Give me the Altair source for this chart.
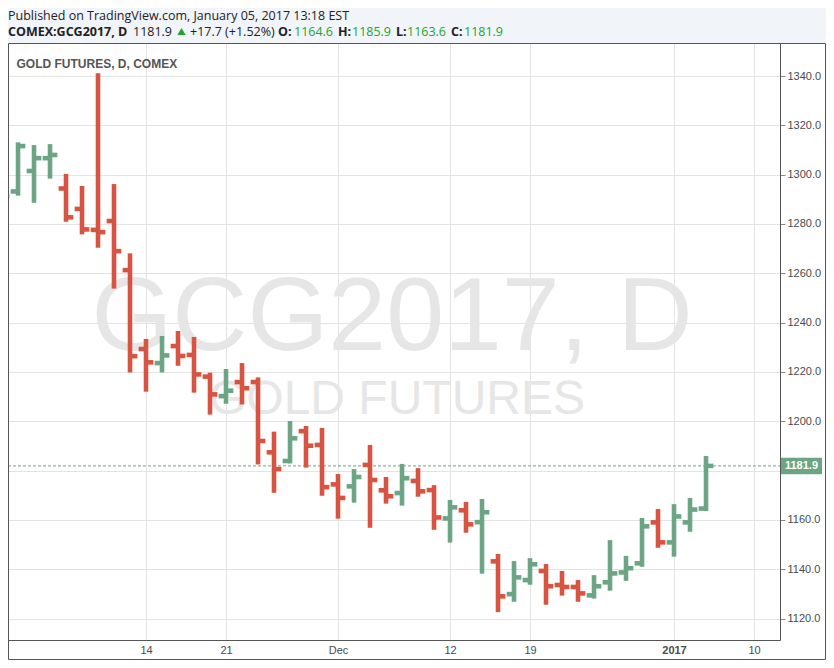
import altair as alt
import pandas as pd

# ---------------- data ----------------
dates = ["Nov 1", "Nov 2", "Nov 3", "Nov 4", "Nov 7", "Nov 8", "Nov 9", "Nov 10", "Nov 11",
         "Nov 14", "Nov 15", "Nov 16", "Nov 17", "Nov 18", "Nov 21", "Nov 22", "Nov 23", "Nov 25",
         "Nov 28", "Nov 29", "Nov 30", "Dec 1", "Dec 2", "Dec 5", "Dec 6", "Dec 7", "Dec 8", "Dec 9",
         "Dec 12", "Dec 13", "Dec 14", "Dec 15", "Dec 16", "Dec 19", "Dec 20", "Dec 21", "Dec 22",
         "Dec 23", "Dec 27", "Dec 28", "Dec 29", "Dec 30", "Jan 3", "Jan 4", "Jan 5"]
opens = [1287.0, 1293.2, 1301.5, 1306.7, 1294.4, 1286.1, 1277.6, 1281.2, 1261.3,
         1229.3, 1223.6, 1230.5, 1226.9, 1218.1, 1210.2, 1215.9, 1215.9, 1187.4,
         1183.9, 1196.0, 1190.4, 1174.4, 1173.6, 1182.3, 1172.0, 1170.9, 1175.8, 1172.1,
         1160.6, 1163.9, 1159.1, 1143.2, 1129.9, 1135.6, 1139.3, 1133.6, 1132.8,
         1129.4, 1134.7, 1138.7, 1142.4, 1159.0, 1150.9, 1159.0, 1164.6]
highs = [1293.5, 1313.1, 1312.0, 1312.4, 1300.3, 1295.4, 1341.1, 1296.2, 1268.1,
         1233.4, 1234.6, 1236.6, 1234.2, 1219.7, 1221.2, 1223.6, 1217.8, 1195.8,
         1200.1, 1198.1, 1197.3, 1178.6, 1180.6, 1190.4, 1177.4, 1182.7, 1181.0, 1174.1,
         1168.1, 1167.3, 1168.5, 1146.2, 1143.3, 1144.5, 1142.1, 1139.3, 1135.6,
         1137.6, 1151.8, 1145.4, 1160.8, 1164.4, 1166.4, 1168.9, 1185.9]
lows = [1283.0, 1291.5, 1288.6, 1298.4, 1280.9, 1275.8, 1270.4, 1253.8, 1219.8,
        1212.0, 1219.8, 1222.5, 1211.6, 1202.7, 1207.1, 1206.8, 1182.5, 1171.0,
        1182.9, 1181.2, 1169.8, 1160.5, 1167.0, 1156.8, 1166.6, 1165.8, 1169.4, 1156.0,
        1150.8, 1154.8, 1138.2, 1122.6, 1126.8, 1133.7, 1125.6, 1129.3, 1126.8,
        1128.1, 1131.3, 1135.3, 1141.0, 1148.7, 1145.1, 1155.2, 1163.6]
closes = [1291.3, 1311.6, 1306.7, 1308.0, 1282.7, 1277.8, 1276.7, 1269.0, 1226.4,
          1223.9, 1226.7, 1226.5, 1219.0, 1210.9, 1212.4, 1213.4, 1192.0, 1180.6,
          1193.1, 1190.1, 1173.3, 1168.9, 1177.4, 1176.2, 1169.6, 1176.9, 1171.6, 1161.0,
          1165.1, 1158.2, 1163.1, 1129.0, 1136.7, 1142.0, 1133.1, 1132.8, 1130.2,
          1133.1, 1138.3, 1140.4, 1157.4, 1150.9, 1161.4, 1164.2, 1181.9]

x_tick_index = [0, 9, 14, 21, 28, 33, 42, 47]
x_tick_labels = ["Nov", "14", "21", "Dec", "12", "19", "2017", "10"]
y_ticks = [1120, 1140, 1160, 1180, 1200, 1220, 1240, 1260, 1280, 1300, 1320, 1340]
hidden_y_label = 1180  # covered by the last-price marker in the reference

published = "Published on TradingView.com, January 05, 2017 13:18 EST"
symbol = "COMEX:GCG2017, D"
pane_title = "GOLD FUTURES, D, COMEX"
watermark1 = "GCG2017, D"
watermark2 = "GOLD FUTURES"

# ---------------- styles ----------------
UP = "#6ba583"
DOWN = "#d75442"
GREEN_TXT = "#21a62c"
GRID = "#e3e3e3"
FRAME = "#555555"
FONT = "Liberation Sans"
HFONT = "Open Sans"
W, H = 772, 597

df = pd.DataFrame({"i": list(range(len(dates))), "date": dates,
                   "o": opens, "h": highs, "l": lows, "c": closes})
last = df.tail(1).reset_index(drop=True)
one = pd.DataFrame({"k": [0]})

chg = closes[-1] - closes[-2]
pct = chg / closes[-2] * 100

label_expr = " : ".join(
    f"datum.value == {v} ? '{t}'" for v, t in zip(x_tick_index, x_tick_labels)
) + " : ''"
y_label_expr = f"datum.value == {hidden_y_label} ? '' : format(datum.value, '.1f')"

xscale = alt.Scale(domain=[0.375, 48.625], nice=False, zero=False)
yscale = alt.Scale(domain=[1111.3, 1353.4], nice=False, zero=False)

xaxis = alt.Axis(values=x_tick_index, labelExpr=label_expr, title=None, grid=True,
                 gridColor=GRID, ticks=False, tickSize=0, labelPadding=4, labelFontSize=11,
                 labelColor="#4a4a4a", labelFont=FONT, domainColor=FRAME,
                 labelFlush=False, labelOverlap=False,
                 labelFontWeight={"condition": {"test": "datum.value == 42", "value": "bold"},
                                  "value": "normal"})
yaxis = alt.Axis(orient="right", values=y_ticks, labelExpr=y_label_expr, title=None, grid=True,
                 gridColor=GRID, tickSize=5, tickColor="#888888", labelPadding=2,
                 labelFontSize=11, labelColor="#4a4a4a", labelFont=FONT, domainColor=FRAME,
                 labelFlush=False, labelOverlap=False)


def X(f):
    return alt.X(f, type="quantitative", scale=xscale, axis=xaxis)


def Y(f):
    return alt.Y(f, type="quantitative", scale=yscale, axis=yaxis)


color = alt.condition("datum.c >= datum.o", alt.value(UP), alt.value(DOWN))

# header background strip
header_bg = alt.Chart(one).mark_rect(color="#f1f4f9").encode(
    x=alt.value(0), x2=alt.value(818), y=alt.value(-35), y2=alt.value(0))

# watermark
wm1 = alt.Chart(one).mark_text(text=watermark1, font=FONT, fontSize=104, color="#e6e6e6",
                               align="center", baseline="alphabetic").encode(
    x=alt.value(384), y=alt.value(307))
wm2 = alt.Chart(one).mark_text(text=watermark2, font=FONT, fontSize=48, color="#e6e6e6",
                               align="center", baseline="alphabetic").encode(
    x=alt.value(389), y=alt.value(371))

# current price dotted line
price_line = alt.Chart(last).mark_rule(color=UP, strokeDash=[3, 2], strokeWidth=1).encode(
    y=Y("c"), x=alt.value(0), x2=alt.value(W))

base = alt.Chart(df).transform_calculate(lo="datum.i - 0.46", hi="datum.i + 0.46")
bars = base.mark_rule(strokeWidth=4.6, clip=True).encode(
    x=X("i"), y=Y("h"), y2="l", color=color)
open_t = base.mark_rule(strokeWidth=4.6, clip=True).encode(
    x=X("lo"), x2="i", y=Y("o"), color=color)
close_t = base.mark_rule(strokeWidth=4.6, clip=True).encode(
    x=X("i"), x2="hi", y=Y("c"), color=color)

# price box on the right axis
pbase = alt.Chart(last).transform_calculate(c_lo="datum.c - 3.35", c_hi="datum.c + 3.35")
pbox = pbase.mark_rect(color=UP).encode(
    x=alt.value(773), x2=alt.value(814), y=Y("c_lo"), y2="c_hi")
ptext = alt.Chart(last).mark_text(font=FONT, fontSize=11, fontWeight="bold", color="white",
                                  align="center", baseline="middle").encode(
    x=alt.value(793.5), y=Y("c"), text=alt.Text("c:Q", format=".1f"))

# pane title
ptitle = alt.Chart(one).mark_text(text=pane_title, font=FONT, fontSize=12, fontWeight="bold",
                                  color="#555555", align="left", baseline="alphabetic").encode(
    x=alt.value(8.5), y=alt.value(25))


def htext(txt, x, y, bold=False, col="#222222", size=12.5):
    return alt.Chart(one).mark_text(text=txt, font=HFONT, fontSize=size,
                                    fontWeight="bold" if bold else "normal", color=col,
                                    align="left", baseline="alphabetic").encode(
        x=alt.value(x), y=alt.value(y))


L1, L2 = -23.5, -7.0
headers = [
    htext(published, 0, L1),
    htext(symbol, 0, L2, bold=True),
    htext(f"{closes[-1]:.1f}", 125, L2),
    htext(f"{chg:+.1f} ({pct:+.2f}%)", 182, L2),
    htext("O:", 270, L2, bold=True),
    htext(f"{opens[-1]:.1f}", 286, L2, col=GREEN_TXT),
    htext("H:", 330, L2, bold=True),
    htext(f"{highs[-1]:.1f}", 344, L2, col=GREEN_TXT),
    htext("L:", 388, L2, bold=True),
    htext(f"{lows[-1]:.1f}", 399, L2, col=GREEN_TXT),
    htext("C:", 443, L2, bold=True),
    htext(f"{closes[-1]:.1f}", 456, L2, col=GREEN_TXT),
]
tri = alt.Chart(one).mark_point(shape="triangle-up", filled=True, color=GREEN_TXT,
                                size=70, opacity=1).encode(
    x=alt.value(173.5), y=alt.value(-11.5))

frame = alt.Chart(one).mark_rect(fillOpacity=0, stroke=FRAME, strokeWidth=1).encode(
    x=alt.value(0.5), x2=alt.value(817.5), y=alt.value(0.5), y2=alt.value(616.5))

chart = alt.layer(
    header_bg, wm1, wm2, price_line, bars, open_t, close_t, pbox, ptext, ptitle,
    *headers, tri, frame
).properties(
    width=W, height=H,
    padding={"left": 0, "top": 35, "right": 46, "bottom": 20},
    autosize=alt.AutoSizeParams(type="none"),
).configure(background="white", font=FONT).configure_view(stroke=None)

chart.save("out.html", embed_options={"renderer": "svg", "actions": False})
